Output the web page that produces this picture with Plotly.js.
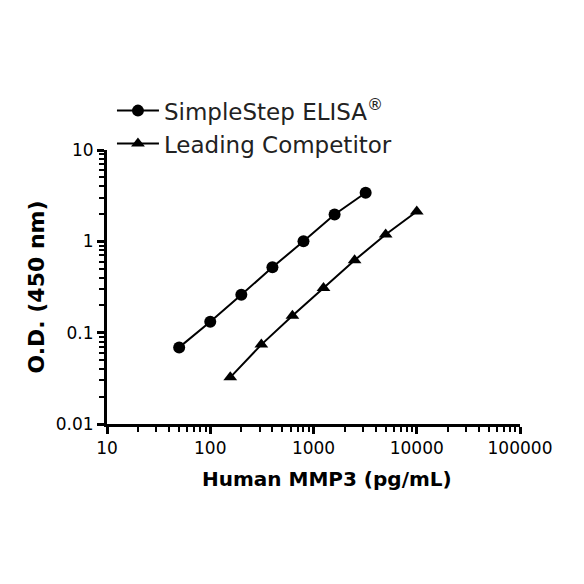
<!DOCTYPE html>
<html>
<head>
<meta charset="utf-8">
<script src="https://cdn.plot.ly/plotly-3.0.1.min.js"></script>
<style>html,body{margin:0;padding:0;background:#fff;}#chart{width:584px;height:584px;}</style>
</head>
<body>
<div id="chart"></div>
<script>
const simpleStepConc = [50, 100, 200, 400, 800, 1600, 3200];
const simpleStepOD = [0.069, 0.132, 0.26, 0.52, 1.0, 1.97, 3.4];
const competitorConc = [156.25, 312.5, 625, 1250, 2500, 5000, 10000];
const competitorOD = [0.0324, 0.074, 0.153, 0.308, 0.62, 1.19, 2.12];
const seriesNames = ['SimpleStep ELISA<sup>®</sup>', 'Leading Competitor'];
const xTickVals = [10, 100, 1000, 10000, 100000];
const xTickText = ['10', '100', '1000', '10000', '100000'];
const yTickVals = [0.01, 0.1, 1, 10];
const yTickText = ['0.01', '0.1', '1', '10'];
const xTitle = '<b>Human MMP3 (pg/mL)</b>';
const yTitle = '<b>O.D. (450 nm)</b>';

const FONT = '"DejaVu Sans", "Noto Sans", sans-serif';

// minor tick positions (2..9 within each decade of the axis)
function minorVals(decades) {
  const out = [];
  decades.slice(0, -1).forEach(d => { for (let k = 2; k <= 9; k++) out.push(d * k); });
  return out;
}

const traces = [
  {x: simpleStepConc, y: simpleStepOD, name: seriesNames[0], type: 'scatter', mode: 'lines+markers',
   line: {color: '#000', width: 2}, marker: {symbol: 'circle', size: 12, color: '#000'}},
  {x: competitorConc, y: competitorOD, name: seriesNames[1], type: 'scatter', mode: 'lines+markers',
   line: {color: '#000', width: 2}, marker: {symbol: 'triangle-up', size: 12, color: '#000'}}
];

const axisCommon = {
  type: 'log', tickmode: 'array',
  showgrid: false, zeroline: false, showline: true, linecolor: '#000', linewidth: 3,
  ticks: 'outside', ticklen: 7, tickwidth: 3, tickcolor: '#000',
  tickfont: {family: FONT, size: 17, color: '#000'}
};
const minorCommon = {tickmode: 'array', ticks: 'outside', ticklen: 5, tickwidth: 2, tickcolor: '#000', showgrid: false};

const layout = {
  width: 584, height: 584,
  margin: {l: 107, r: 64, t: 150, b: 160},
  paper_bgcolor: '#fff', plot_bgcolor: '#fff',
  font: {family: FONT, color: '#000', size: 17},
  showlegend: true,
  legend: {x: 0.012, y: 1.222, xanchor: 'left', yanchor: 'top', bgcolor: 'rgba(0,0,0,0)',
           font: {family: FONT, size: 23, color: '#222'}, tracegroupgap: 0, itemwidth: 42},
  xaxis: Object.assign({}, axisCommon, {range: [1, 5], tickvals: xTickVals, ticktext: xTickText,
          minor: Object.assign({}, minorCommon, {tickvals: minorVals(xTickVals)})}),
  yaxis: Object.assign({}, axisCommon, {range: [-2, 1], tickvals: yTickVals, ticktext: yTickText,
          minor: Object.assign({}, minorCommon, {tickvals: minorVals(yTickVals)}),
          title: {text: yTitle, font: {family: FONT, size: 22, color: '#000'}, standoff: 6}}),
  annotations: [
    {text: xTitle, xref: 'paper', yref: 'paper', x: 0.533, y: -0.2, xanchor: 'center', yanchor: 'middle',
     showarrow: false, font: {family: FONT, size: 20, color: '#000'}}
  ]
};

Plotly.newPlot('chart', traces, layout, {displayModeBar: false, staticPlot: true});
</script>
</body>
</html>
